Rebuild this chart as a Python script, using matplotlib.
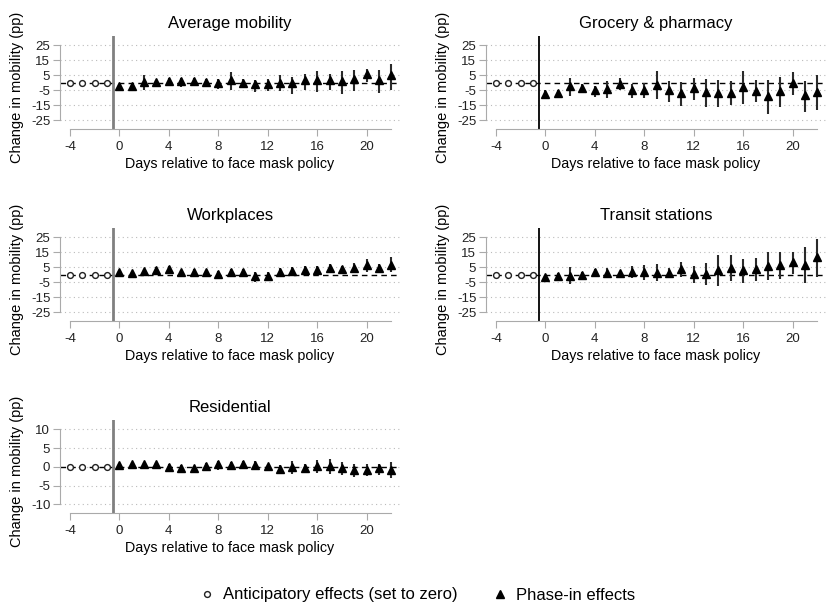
import numpy as np
import matplotlib.pyplot as plt

plt.rcParams['font.family'] = ['Liberation Sans', 'DejaVu Sans']
plt.rcParams['axes.unicode_minus'] = False

# days relative to policy
pre_days = [-4, -3, -2, -1]
pre_vals = [0, 0, 0, 0]
days = list(range(0, 23))

titles = ["Average mobility", "Grocery & pharmacy", "Workplaces", "Transit stations", "Residential"]

# point estimates and confidence bounds
avg_est = [-1.7, -1.7, 0.5, 0.5, 1.2, 1.0, 1.2, 0.5, 0.0, 1.7, 0.0, -0.5, -0.5, 0.0, 0.0, 1.7, 2.3, 2.3, 1.2, 2.8, 6.0, 1.7, 5.4]
avg_hi = [-0.5, -0.5, 5.0, 1.8, 3.2, 3.2, 3.2, 2.8, 2.8, 7.2, 2.8, 2.1, 2.8, 5.0, 3.9, 6.1, 8.3, 6.1, 8.3, 8.8, 9.4, 8.8, 12.8]
avg_lo = [-3.0, -3.0, -5.0, -0.8, -1.7, -2.8, -1.7, -2.8, -3.9, -5.0, -3.2, -6.1, -5.5, -5.5, -7.2, -5.0, -6.1, -5.0, -7.2, -5.5, 0.6, -6.8, -4.6]

groc_est = [-7.2, -6.5, -2.3, -3.2, -5.0, -4.0, -1.0, -5.0, -4.5, -1.2, -5.0, -6.8, -3.4, -6.0, -6.8, -6.5, -2.8, -5.4, -8.8, -5.4, -0.1, -8.3, -6.0]
groc_hi = [-5.0, -4.6, 3.2, -1.0, -1.7, 1.2, 3.4, -0.6, -0.1, 7.7, 1.2, 0.6, 3.4, 2.8, 1.7, 1.2, 8.3, 1.7, 2.3, 3.9, 7.2, 1.2, 5.0]
groc_lo = [-9.4, -9.0, -8.8, -6.1, -9.4, -10.1, -5.0, -10.1, -10.1, -10.6, -12.4, -15.4, -11.2, -15.9, -16.1, -15.0, -14.3, -12.8, -20.6, -15.9, -7.7, -19.4, -17.7]

work_est = [1.8, 1.1, 2.4, 3.1, 4.0, 1.8, 1.8, 1.8, 0.7, 1.8, 1.8, -0.4, -0.9, 2.2, 2.4, 3.6, 3.6, 4.7, 4.0, 4.7, 6.7, 4.4, 6.7]
work_hi = [2.8, 2.2, 4.0, 5.1, 6.2, 3.6, 4.0, 3.3, 2.9, 4.0, 4.0, 1.8, 1.8, 4.4, 5.1, 5.8, 5.8, 7.3, 6.2, 8.0, 10.7, 7.3, 11.8]
work_lo = [0.8, -1.6, 0.0, 0.2, 0.7, -0.4, -0.4, -0.4, -2.2, -0.9, -1.6, -4.4, -3.8, -0.4, -0.4, 0.7, 0.7, 1.8, 0.7, 1.8, 1.8, 1.8, 1.8]

trans_est = [-1.1, -0.7, -0.4, 0.0, 2.2, 1.6, 1.1, 2.2, 1.8, 1.6, 1.1, 4.0, 0.4, 0.7, 3.3, 4.9, 3.3, 4.0, 6.2, 6.7, 8.4, 6.9, 11.8]
trans_hi = [-0.2, 1.3, 5.1, 1.8, 4.0, 4.4, 2.9, 6.2, 6.7, 7.3, 4.7, 8.9, 6.2, 8.0, 13.3, 13.3, 10.7, 11.3, 15.1, 15.6, 15.6, 18.4, 24.0]
trans_lo = [-2.0, -2.7, -6.0, -2.2, 0.0, -2.2, -1.1, -2.2, -3.1, -3.8, -2.2, -1.6, -5.3, -6.7, -7.6, -3.8, -5.3, -3.8, -3.1, -2.7, 0.7, -5.3, -1.6]

res_est = [0.5, 0.8, 0.7, 0.7, 0.1, -0.2, -0.4, 0.2, 0.7, 0.4, 0.8, 0.6, 0.2, -0.5, 0.0, -0.3, 0.2, 0.3, -0.4, -0.7, -0.7, -0.4, -0.7]
res_hi = [0.8, 1.3, 1.3, 1.3, 0.9, 0.4, 0.0, 1.1, 1.6, 1.3, 1.6, 1.6, 0.9, 0.4, 1.6, 0.9, 1.8, 2.2, 1.3, 0.9, 0.9, 0.7, 1.3]
res_lo = [0.3, 0.0, 0.0, 0.0, -0.7, -0.9, -1.1, -0.9, -0.7, -0.7, -0.3, -0.7, -0.7, -1.8, -2.0, -1.6, -1.6, -2.0, -2.2, -2.7, -2.5, -2.2, -2.9]

wide_ticks = [-25, -15, -5, 5, 15, 25]
res_ticks = [-10, -5, 0, 5, 10]
x_ticks = [-4, 0, 4, 8, 12, 16, 20]

panels = [
    (avg_est, avg_lo, avg_hi, wide_ticks, (-30.7, 31.3)),
    (groc_est, groc_lo, groc_hi, wide_ticks, (-30.7, 31.3)),
    (work_est, work_lo, work_hi, wide_ticks, (-30.7, 31.3)),
    (trans_est, trans_lo, trans_hi, wide_ticks, (-30.7, 31.3)),
    (res_est, res_lo, res_hi, res_ticks, (-12.3, 12.5)),
]

W, H = 826, 605
fig = plt.figure(figsize=(W / 100, H / 100), dpi=100)

for i, (est, lo, hi, yt, ylim) in enumerate(panels):
    row, col = i // 2, i % 2
    left = 60 if col == 0 else 486
    top = 36 + 192 * row
    ax = fig.add_axes([left / W, 1 - (top + 93) / H, 340 / W, 93 / H])
    ax.set_xlim(-4.8, 22.7)
    ax.set_ylim(ylim)

    for t in yt:
        ax.axhline(t, color='#bbbbbb', lw=0.8, ls=(0, (1, 3)), zorder=0)
    ax.axhline(0, color='black', lw=1, ls=(0, (4, 3)), zorder=1)
    if col == 0:
        ax.axvline(-0.5, color='#808080', lw=2, zorder=1)
    else:
        ax.axvline(-0.5, color='black', lw=1.3, zorder=1)

    ax.vlines(days, lo, hi, color='#2a2a2a', lw=1.5, zorder=2)
    ax.plot(days, est, ls='none', marker='^', ms=5.2, color='black', zorder=3)
    ax.plot(pre_days, pre_vals, ls='none', marker='o', ms=4.2, mfc='white',
            mec='#222222', mew=1, zorder=3)

    for s in ['top', 'right']:
        ax.spines[s].set_visible(False)
    ax.spines['left'].set_color('#aaaaaa')
    ax.spines['bottom'].set_color('#aaaaaa')
    ax.spines['left'].set_bounds(yt[0], yt[-1])
    ax.spines['bottom'].set_bounds(-4, 22)
    ax.set_yticks(yt)
    ax.set_xticks(x_ticks)
    ax.tick_params(axis='both', colors='#aaaaaa', labelcolor='#222222',
                   labelsize=9.5, length=5, width=0.8)
    ax.tick_params(axis='y', pad=2)

    ax.set_title(titles[i], fontsize=12, pad=6)
    ax.set_xlabel("Days relative to face mask policy", fontsize=10.3)
    ax.xaxis.set_label_coords(0.5, -0.3)
    ax.set_ylabel("Change in mobility (pp)", fontsize=10.5)
    ax.yaxis.set_label_coords(-0.105, 0.45)

h1, = plt.plot([], [], ls='none', marker='o', ms=4.2, mfc='white', mec='#222222', mew=1)
h2, = plt.plot([], [], ls='none', marker='^', ms=5.2, color='black')
fig.legend([h1, h2], ["Anticipatory effects (set to zero)", "Phase-in effects"],
           loc='center', bbox_to_anchor=(417 / W, 10 / H), ncol=2, frameon=False,
           fontsize=12, handletextpad=0.5, columnspacing=2.0, handlelength=1)

plt.savefig('out.png', dpi=100)
